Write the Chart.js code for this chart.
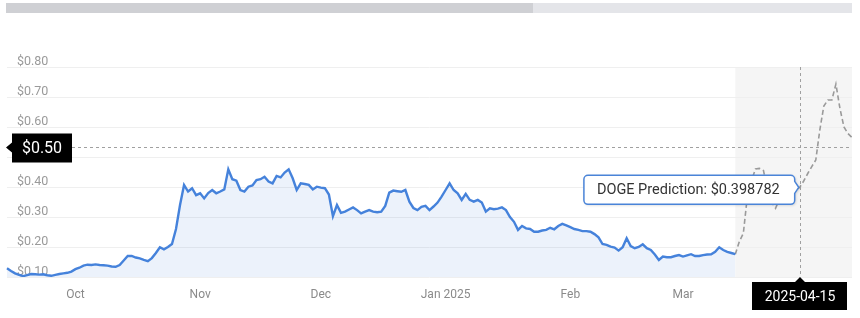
<!DOCTYPE html>
<html>
<head>
<meta charset="utf-8">
<script src="https://cdn.jsdelivr.net/npm/chart.js@4.4.1/dist/chart.umd.min.js"></script>
<style>
html, body { margin: 0; padding: 0; background: #fff; }
</style>
</head>
<body>
<canvas id="chart" width="860" height="318"></canvas>
<script>
// daily closes, 2024-09-14 .. 2025-03-14
var historyStart = [2024, 8, 14];
var historyPrices = [
  0.129, 0.12, 0.112, 0.107, 0.103, 0.106, 0.11, 0.109, 0.108, 0.109,
  0.106, 0.104, 0.107, 0.11, 0.112, 0.114, 0.118, 0.126, 0.131, 0.138,
  0.141, 0.14, 0.142, 0.14, 0.139, 0.138, 0.135, 0.134, 0.14, 0.155,
  0.17, 0.17, 0.165, 0.162, 0.157, 0.153, 0.163, 0.18, 0.199, 0.192,
  0.2, 0.21, 0.26, 0.34, 0.407, 0.385, 0.396, 0.373, 0.379, 0.362,
  0.38, 0.39, 0.379, 0.385, 0.392, 0.459, 0.426, 0.421, 0.39, 0.385,
  0.401, 0.405, 0.423, 0.426, 0.434, 0.418, 0.412, 0.437, 0.432, 0.448,
  0.459, 0.429, 0.39, 0.412, 0.41, 0.407, 0.392, 0.401, 0.398, 0.396,
  0.375, 0.303, 0.34, 0.314, 0.318, 0.325, 0.332, 0.323, 0.312, 0.318,
  0.323, 0.318, 0.316, 0.318, 0.337, 0.381, 0.388, 0.386, 0.384, 0.39,
  0.351, 0.33, 0.323, 0.334, 0.337, 0.323, 0.335, 0.348, 0.368, 0.39,
  0.412, 0.39, 0.379, 0.357, 0.377, 0.357, 0.351, 0.357, 0.348, 0.318,
  0.329, 0.326, 0.328, 0.332, 0.323, 0.3, 0.284, 0.257, 0.27, 0.262,
  0.26, 0.251, 0.251, 0.255, 0.257, 0.264, 0.259, 0.27, 0.277, 0.272,
  0.266, 0.26, 0.257, 0.253, 0.253, 0.251, 0.243, 0.232, 0.21, 0.207,
  0.201, 0.198, 0.188, 0.199, 0.229, 0.203, 0.196, 0.2, 0.209, 0.196,
  0.19, 0.175, 0.157, 0.168, 0.166, 0.166, 0.17, 0.173, 0.168, 0.172,
  0.176, 0.17, 0.17, 0.173, 0.175, 0.176, 0.184, 0.199, 0.19, 0.184,
  0.18, 0.176
];
// prediction every 2 days, starting at the last close
var predictionStepDays = 2;
var predictionPrices = [
  0.176, 0.218, 0.246, 0.37, 0.42, 0.46, 0.462, 0.455, 0.39, 0.35,
  0.329, 0.36, 0.373, 0.38, 0.383, 0.39, 0.398782, 0.42, 0.445, 0.468,
  0.49, 0.59, 0.67, 0.69, 0.69, 0.743, 0.662, 0.6, 0.578, 0.565
];
var yMin = 0.1, yMax = 0.8, yStep = 0.1;
var monthNames = ['Jan', 'Feb', 'Mar', 'Apr', 'May', 'Jun', 'Jul', 'Aug', 'Sep', 'Oct', 'Nov', 'Dec'];
var hoverDate = '2025-04-15';
var crosshairPrice = 0.532;
var crosshairText = '$0.50';
var tooltipPrefix = 'DOGE Prediction: $';

function iso(d) {
  var m = d.getUTCMonth() + 1, day = d.getUTCDate();
  return d.getUTCFullYear() + '-' + (m < 10 ? '0' : '') + m + '-' + (day < 10 ? '0' : '') + day;
}

var labels = [];
var cur = new Date(Date.UTC(historyStart[0], historyStart[1], historyStart[2]));
for (var i = 0; i < historyPrices.length; i++) {
  labels.push(iso(cur));
  if (i < historyPrices.length - 1) cur.setUTCDate(cur.getUTCDate() + 1);
}
for (var j = 1; j < predictionPrices.length; j++) {
  cur.setUTCDate(cur.getUTCDate() + predictionStepDays);
  labels.push(iso(cur));
}
var splitIndex = historyPrices.length - 1;
var histData = labels.map(function (l, k) { return k <= splitIndex ? historyPrices[k] : null; });
var predData = labels.map(function (l, k) { return k >= splitIndex ? predictionPrices[k - splitIndex] : null; });
var hoverIndex = labels.indexOf(hoverDate);

var overlay = {
  id: 'overlay',
  beforeDraw: function (chart) {
    var c = chart.ctx, a = chart.chartArea, xs = chart.scales.x;
    c.save();
    // navigator bar on top
    c.fillStyle = '#e4e5e9';
    c.fillRect(6, 3, 846, 10);
    c.fillStyle = '#cfd0d4';
    c.fillRect(6, 3, 527, 10);
    // prediction band
    var bx = xs.getPixelForValue(splitIndex);
    c.fillStyle = '#f5f5f5';
    c.fillRect(bx, a.top, a.right - bx, a.bottom - a.top);
    c.restore();
  },
  afterDraw: function (chart) {
    var c = chart.ctx, a = chart.chartArea, ys = chart.scales.y;
    var pt = chart.getDatasetMeta(1).data[hoverIndex];
    var px = pt.x, py = pt.y;
    var hy = Math.round(ys.getPixelForValue(crosshairPrice)) + 0.5;
    c.save();
    // crosshairs
    c.strokeStyle = '#a0a0a0';
    c.lineWidth = 1;
    c.setLineDash([3, 3]);
    c.beginPath();
    c.moveTo(Math.round(px) + 0.5, a.top);
    c.lineTo(Math.round(px) + 0.5, a.bottom);
    c.moveTo(72, hy);
    c.lineTo(a.right, hy);
    c.stroke();
    c.setLineDash([]);

    // tooltip
    var text = tooltipPrefix + predictionPrices[hoverIndex - splitIndex];
    c.font = '14.5px Roboto';
    var tw = c.measureText(text).width;
    var bw = tw + 28, bh = 29;
    var bxr = px - 5, bx0 = bxr - bw, by0 = py - 12;
    c.shadowColor = 'rgba(0,0,0,0.18)';
    c.shadowBlur = 3;
    c.shadowOffsetX = 1;
    c.shadowOffsetY = 1;
    c.beginPath();
    var r = 4;
    c.moveTo(bx0 + r, by0);
    c.lineTo(bxr - r, by0);
    c.arcTo(bxr, by0, bxr, by0 + r, r);
    c.lineTo(bxr, py - 6);
    c.lineTo(px - 1, py);
    c.lineTo(bxr, py + 6);
    c.lineTo(bxr, by0 + bh - r);
    c.arcTo(bxr, by0 + bh, bxr - r, by0 + bh, r);
    c.lineTo(bx0 + r, by0 + bh);
    c.arcTo(bx0, by0 + bh, bx0, by0 + bh - r, r);
    c.lineTo(bx0, by0 + r);
    c.arcTo(bx0, by0, bx0 + r, by0, r);
    c.closePath();
    c.fillStyle = '#fff';
    c.fill();
    c.shadowColor = 'transparent';
    c.strokeStyle = '#4a84d8';
    c.lineWidth = 1.5;
    c.stroke();
    c.fillStyle = '#333';
    c.textBaseline = 'middle';
    c.textAlign = 'left';
    c.fillText(text, bx0 + 13, by0 + bh / 2 + 1);

    // y crosshair label
    c.fillStyle = '#000';
    c.beginPath();
    c.moveTo(12, hy - 14);
    c.lineTo(72, hy - 14);
    c.lineTo(72, hy + 15);
    c.lineTo(12, hy + 15);
    c.lineTo(12, hy + 5);
    c.lineTo(6, hy);
    c.lineTo(12, hy - 5);
    c.closePath();
    c.fill();
    c.fillStyle = '#fff';
    c.font = '16px Roboto';
    c.textAlign = 'center';
    c.fillText(crosshairText, 42, hy + 1);

    // x crosshair label
    var lx = Math.round(px);
    c.fillStyle = '#000';
    c.beginPath();
    c.moveTo(lx - 48, a.bottom + 5);
    c.lineTo(lx - 5, a.bottom + 5);
    c.lineTo(lx, a.bottom);
    c.lineTo(lx + 5, a.bottom + 5);
    c.lineTo(lx + 47, a.bottom + 5);
    c.lineTo(lx + 47, a.bottom + 33);
    c.lineTo(lx - 48, a.bottom + 33);
    c.closePath();
    c.fill();
    c.fillStyle = '#fff';
    c.font = '14px Roboto';
    c.fillText(hoverDate, lx, a.bottom + 20);
    c.restore();
  }
};

new Chart(document.getElementById('chart'), {
  type: 'line',
  data: {
    labels: labels,
    datasets: [
      {
        label: 'DOGE',
        data: histData,
        borderColor: '#4582db',
        borderWidth: 2.4,
        backgroundColor: 'rgba(69,130,219,0.1)',
        fill: 'start',
        pointRadius: 0,
        tension: 0
      },
      {
        label: 'DOGE Prediction',
        data: predData,
        borderColor: '#9a9a9a',
        borderWidth: 1.6,
        borderDash: [5, 3],
        fill: false,
        pointRadius: 0,
        tension: 0
      }
    ]
  },
  options: {
    responsive: false,
    animation: false,
    devicePixelRatio: 1,
    layout: { padding: { left: 7, right: 8, top: 67, bottom: 0 } },
    plugins: { legend: { display: false }, tooltip: { enabled: false } },
    scales: {
      x: {
        grid: { display: false },
        border: { display: false },
        ticks: {
          autoSkip: false,
          maxRotation: 0,
          padding: 3,
          color: '#8a8a8a',
          font: { family: 'Roboto', size: 12 },
          callback: function (v, i) {
            var l = labels[i];
            if (l.slice(8) !== '01') return '';
            var m = parseInt(l.slice(5, 7), 10) - 1;
            return m === 0 ? monthNames[m] + ' ' + l.slice(0, 4) : monthNames[m];
          }
        },
        afterFit: function (s) { s.height = 41; }
      },
      y: {
        min: yMin,
        max: yMax,
        grid: { color: '#efefef', drawTicks: false },
        border: { display: false },
        ticks: {
          stepSize: yStep,
          mirror: true,
          padding: 10,
          labelOffset: -5,
          color: '#9a9a9a',
          font: { family: 'Roboto', size: 12.5 },
          callback: function (v) { return '$' + v.toFixed(2); }
        },
        afterFit: function (s) { s.width = 0; }
      }
    }
  },
  plugins: [overlay]
});
</script>
</body>
</html>
